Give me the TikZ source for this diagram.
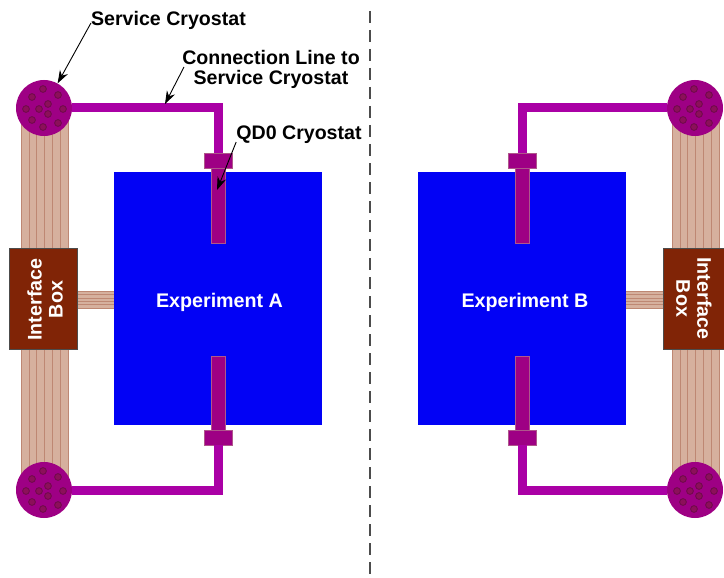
\documentclass[tikz,border=0pt]{standalone}
\usepackage{fontspec}
\setmainfont{Liberation Sans}
\usetikzlibrary{arrows.meta,calc}
\definecolor{expblue}{RGB}{2,2,245}
\definecolor{linepurple}{RGB}{170,0,165}
\definecolor{cryopurple}{RGB}{158,0,132}
\definecolor{holered}{RGB}{140,15,90}
\definecolor{boxbrown}{RGB}{128,36,6}
\definecolor{tubetan}{RGB}{214,176,158}
\definecolor{tubeline}{RGB}{190,135,115}
\tikzset{
  expbox/.style={draw=none,fill=expblue,inner sep=0,minimum width=208,minimum height=253},
  ifacebox/.style={draw=black!70,fill=boxbrown,inner sep=0,minimum height=101},
  svcnode/.style={circle,fill=cryopurple,inner sep=0,minimum size=56},
  flangenode/.style={rectangle,draw=holered!70,fill=cryopurple,inner sep=0,minimum width=28,minimum height=15},
  qdnode/.style={rectangle,draw=holered!70,fill=cryopurple,inner sep=0,minimum width=14,minimum height=75},
  connline/.style={draw=linepurple,line width=9,line join=miter},
  leader/.style={draw=black,line width=.9,-{Stealth[length=13,width=9]}},
  lbl/.style={inner sep=0,align=center,font=\bfseries\fontsize{19.6}{20.5}\selectfont},
  whitelbl/.style={text=white,inner sep=0,align=center,font=\bfseries\fontsize{19.7}{21}\selectfont}
}
\newcommand{\tubes}[4]{%
  \fill[tubetan] (#1,#3) rectangle (#2,#4);
  \foreach \tb in {0,...,6}{\draw[tubeline,line width=.5] ({#1+\tb*(#2-#1)/6},#3) -- ({#1+\tb*(#2-#1)/6},#4);}
}
\newcommand{\sidetubes}[4]{%
  \fill[tubetan] (#1,#3) rectangle (#2,#4);
  \foreach \tb in {0,...,5}{\draw[tubeline,line width=.5] (#1,{#3+\tb*(#4-#3)/5}) -- (#2,{#3+\tb*(#4-#3)/5});}
}
\newcommand{\svccryo}[3]{%
  \node[svcnode] (#1) at (#2,#3) {};
  \foreach \hx/\hy in {-1/-19,-12/-11,14/-13,4/-4,-18/1,-5/1,19/1,4/6,-12/12,-1/19,14/15}{
    \filldraw[fill=holered,draw=holered!75!black,line width=.7] ({#2+\hx},{#3+\hy}) circle (3.4);}
}
\begin{document}
\begin{tikzpicture}[x=1pt,y=-1pt]
  \useasboundingbox (0,0) rectangle (724,578);
  \fill[white] (0,0) rectangle (724,578);
  % centre line
  \draw[black!70,line width=1.1,dash pattern=on 12 off 7] (370,11) -- (370,578);
  % tube bundles
  \tubes{21}{68}{108}{490}
  \tubes{672}{719}{108}{490}
  \sidetubes{77}{114}{291}{308}
  \sidetubes{626}{663}{291}{308}
  % experiments
  \node[expbox] (expA) at (218,298.5) {};
  \node[expbox] (expB) at (522,298.5) {};
  \node[whitelbl] (expAlbl) at (219.5,302) {Experiment A};
  \node[whitelbl] (expBlbl) at (525,302) {Experiment B};
  % interface boxes
  \node[ifacebox,minimum width=68] (ifaceA) at (43,298.5) {};
  \node[ifacebox,minimum width=62] (ifaceB) at (694,298.5) {};
  \node[whitelbl,rotate=90] (ifaceAlbl) at (45,299.5) {Interface\\Box};
  \node[whitelbl,rotate=-90] (ifaceBlbl) at (694,298.5) {Interface\\Box};
  % service cryostats
  \svccryo{svcA}{44}{108}
  \svccryo{svcB}{695}{108}
  \svccryo{svcC}{44}{490}
  \svccryo{svcD}{695}{490}
  % QD0 cryostats
  \node[qdnode] (qdA) at (218,205.5) {};
  \node[qdnode] (qdB) at (522,205.5) {};
  \node[qdnode] (qdC) at (218,393.5) {};
  \node[qdnode] (qdD) at (522,393.5) {};
  \node[flangenode] (flangeA) at (218,160.5) {};
  \node[flangenode] (flangeB) at (522,160.5) {};
  \node[flangenode] (flangeC) at (218,437.5) {};
  \node[flangenode] (flangeD) at (522,437.5) {};
  % connection lines
  \draw[connline] (svcA.east) -| (flangeA.north);
  \draw[connline] (svcB.west) -| (flangeB.north);
  \draw[connline] (svcC.east) -| (flangeC.south);
  \draw[connline] (svcD.west) -| (flangeD.south);
  % labels
  \node[lbl] (lblsvc) at (168.5,20) {Service Cryostat};
  \node[lbl] (lblconn) at (271,69.5) {Connection Line to\\Service Cryostat};
  \node[lbl] (lblqd) at (299,135) {QD0 Cryostat};
  \coordinate (connpt) at (165,104);
  \coordinate (qdpt) at (217,190);
  \draw[leader] (lblsvc.west) ++(0,3) -- (svcA);
  \draw[leader] (184,67) -- (connpt);
  \draw[leader] (lblqd.west) ++(0,7) -- (qdpt);
\end{tikzpicture}
\end{document}
